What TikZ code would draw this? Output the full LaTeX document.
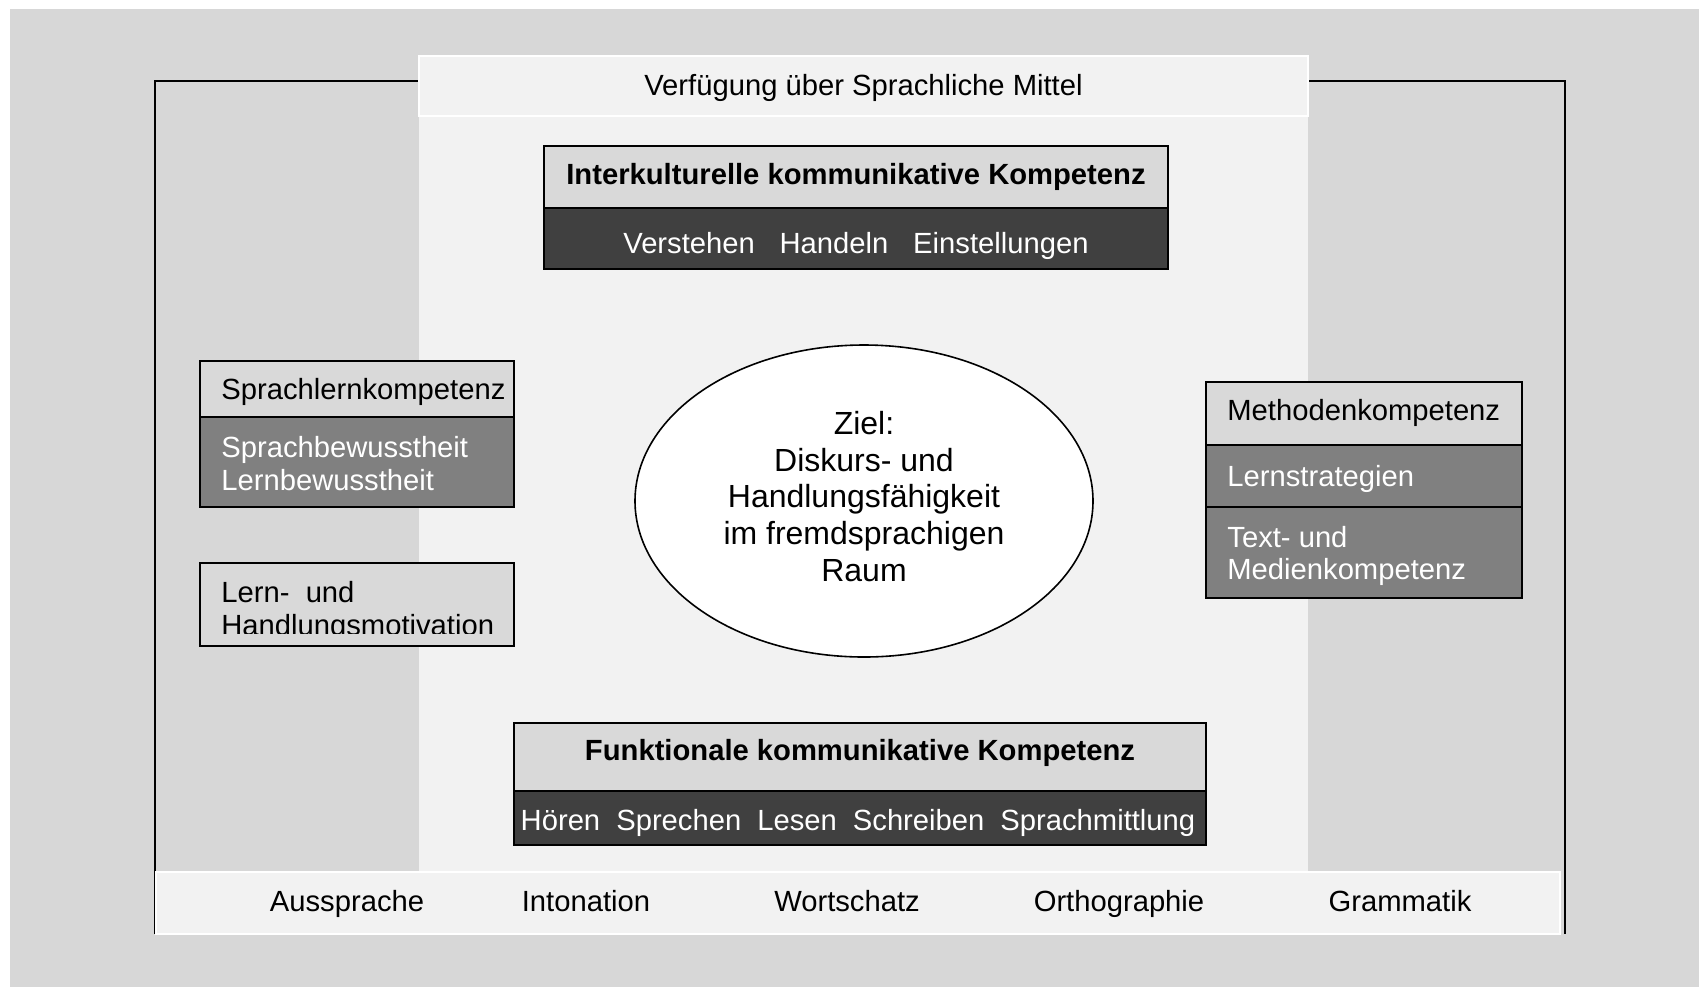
\documentclass[tikz,border=0pt]{standalone}
\usepackage{fontspec}
\setmainfont{Liberation Sans}
\definecolor{bggray}{HTML}{D7D7D7}
\definecolor{lightbg}{HTML}{F2F2F2}
\definecolor{hdrgray}{HTML}{D9D9D9}
\definecolor{darkgray}{HTML}{404040}
\definecolor{midgray}{HTML}{808080}
\begin{document}
\begin{tikzpicture}[x=0.5pt,y=-0.5pt,
  every node/.style={font=\fontsize{14.6}{16.3}\selectfont, inner sep=0pt},
  one/.style={text height=0.89em,text depth=0.21em},
  fr/.style={draw=black,line width=0.8pt},
  hdr/.style={fr,fill=hdrgray},
  dark/.style={fr,fill=darkgray},
  mid/.style={fr,fill=midgray},
  strip/.style={fill=lightbg,draw=white,line width=1.2pt},
  wtxt/.style={text=white},
  ltxt/.style={anchor=west,align=left},
  frameline/.style={draw=black,line width=0.9pt}]
\useasboundingbox (0,0) rectangle (1699,987);
\fill[bggray] (10,9) rectangle (1699,987);
% central light column
\fill[lightbg] (419,56) rectangle (1308,872);
% outer frame
\coordinate (fbl) at (155,934);
\coordinate (ftl) at (155,81);
\coordinate (ftr) at (1565,81);
\coordinate (fbr) at (1565,934);
\coordinate (bl) at (419,81);
\coordinate (br) at (1308,81);
\draw[frameline] (fbl) -- (ftl) -- (bl);
\draw[frameline] (br) -- (ftr) -- (fbr);
% top banner
\path[strip] (419,56) rectangle (1308,116);
\node[one] (verf) at (863.5,88.5) {Verfügung über Sprachliche Mittel};
% bottom strip
\path[strip] (156,872) rectangle (1560,934);
\node[one] (aus) at (347,905) {Aussprache};
\node[one] (into) at (586,905) {Intonation};
\node[one] (wort) at (847,905) {Wortschatz};
\node[one] (orth) at (1119,905) {Orthographie};
\node[one] (gram) at (1400,905) {Grammatik};
% Interkulturelle
\path[hdr] (544,146) rectangle (1168,208);
\path[dark] (544,208) rectangle (1168,269);
\node[one,font=\fontsize{14.6}{16.3}\selectfont\bfseries] (ik) at (856,177.5) {Interkulturelle kommunikative Kompetenz};
\node[one,wtxt] (ik2) at (856,247) {Verstehen\hspace{0.85em}Handeln\hspace{0.85em}Einstellungen};
% Sprachlernkompetenz
\path[hdr] (200,361) rectangle (514,417);
\path[mid] (200,417) rectangle (514,507);
\node[one,ltxt] (sl) at (221,392.5) {Sprachlernkompetenz};
\node[ltxt,wtxt] (sl2) at (221,463.5) {Sprachbewusstheit\\Lernbewusstheit};
% Lern- und Handlungsmotivation
\path[hdr] (200,563) rectangle (514,646);
\begin{scope}
\clip (200,563) rectangle (514,633);
\node[ltxt] (lh) at (221,611.5) {Lern-\ \ und\\Handlungsmotivation};
\end{scope}
% Methodenkompetenz
\path[hdr] (1206,382) rectangle (1522,445);
\path[mid] (1206,445) rectangle (1522,507);
\path[mid] (1206,507) rectangle (1522,598);
\node[one,ltxt] (mk) at (1227,413.5) {Methodenkompetenz};
\node[one,ltxt,wtxt] (mk2) at (1227,479.5) {Lernstrategien};
\node[ltxt,wtxt] (mk3) at (1227,556) {Text- und\\Medienkompetenz};
% Ellipse
\draw[fr,fill=white] (864,501) ellipse [x radius=229, y radius=156];
\node[align=center,font=\fontsize{16}{18.3}\selectfont] (ziel) at (864,496.5) {Ziel:\\Diskurs- und\\Handlungsfähigkeit\\im fremdsprachigen\\Raum};
% Funktionale
\path[hdr] (514,723) rectangle (1206,791);
\path[dark] (514,791) rectangle (1206,845);
\node[one,font=\fontsize{14.6}{16.3}\selectfont\bfseries] (fk) at (860,754) {Funktionale kommunikative Kompetenz};
\node[one,wtxt] (fk2) at (858,824) {Hören\hspace{0.55em}Sprechen\hspace{0.55em}Lesen\hspace{0.55em}Schreiben\hspace{0.55em}Sprachmittlung};
\end{tikzpicture}
\end{document}
